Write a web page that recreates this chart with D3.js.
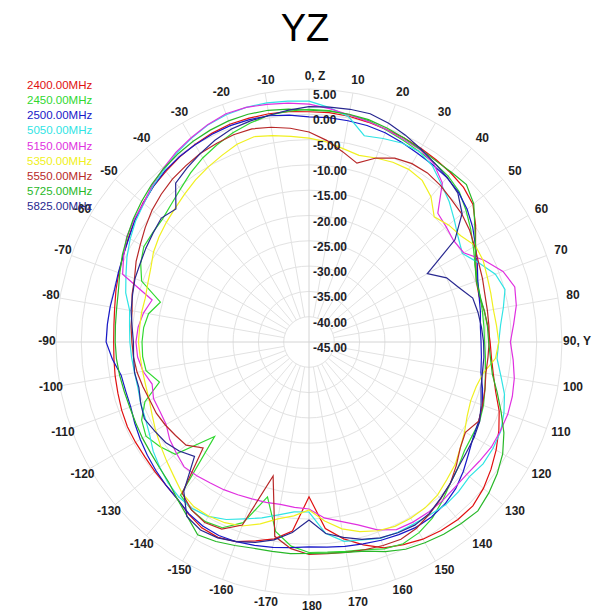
<!DOCTYPE html>
<html>
<head>
<meta charset="utf-8">
<script src="https://cdn.jsdelivr.net/npm/d3@7"></script>
<style>
  html, body { margin: 0; padding: 0; background: #ffffff; }
  svg { display: block; font-family: "Liberation Sans", Arial, sans-serif; }
</style>
</head>
<body>
<div id="chart"></div>
<script>
// ---------------- DATA ----------------
const title = "YZ";
// angle grid (degrees, clockwise from top): 0,5,...,180,-175,...,-5
const angles = d3.range(0, 360, 5);
const angleTicks = [0,10,20,30,40,50,60,70,80,90,100,110,120,130,140,150,160,170,180,
                    -170,-160,-150,-140,-130,-120,-110,-100,-90,-80,-70,-60,-50,-40,-30,-20,-10];
const angleTickLabels = {0: "0, Z", 90: "90, Y"};
const radialTicks = [5,0,-5,-10,-15,-20,-25,-30,-35,-40,-45];
const seriesNames = ["2400.00MHz","2450.00MHz","2500.00MHz","5050.00MHz","5150.00MHz",
                     "5350.00MHz","5550.00MHz","5725.00MHz","5825.00MHz"];
const seriesColors = ["#e01010","#30d830","#1818c8","#30e4e4","#e030e0",
                      "#f0f020","#b82828","#28b828","#282890"];

const s2400 = [0.5,0.5,0.3,0.0,-0.3,-0.5,-0.8,-1.1,-1.4,-1.8,-2.7,-4.8,-7.0,-8.6,-9.8,-10.2,-9.8,-9.5,-9.2,-8.8,-8.0,-6.8,-5.0,-3.6,-2.3,-1.1,0.0,0.8,0.8,0.5,0.0,-0.8,-1.7,-3.5,-5.5,-8.0,-14.4,
  -7.5,-5.5,-4.3,-3.0,-2.4,-2.6,-3.5,-4.5,-5.0,-5.2,-5.4,-5.4,-5.4,-5.6,-5.9,-6.1,-6.3,-6.4,-6.3,-6.0,-5.5,-5.0,-4.5,-3.8,-3.0,-2.2,-1.5,-1.0,-0.4,0.1,0.5,0.8,0.8,0.8,0.7];
const s2450 = [1.0,0.9,0.6,0.3,-0.4,-1.0,-1.5,-1.8,-2.2,-3.0,-4.5,-6.0,-7.5,-8.8,-9.6,-10.0,-10.2,-10.3,-10.3,-10.0,-9.6,-9.0,-8.3,-7.8,-7.8,-7.5,-6.5,-5.5,-4.0,-2.5,-1.5,-1.0,-1.5,-2.5,-3.0,-3.3,-3.4,
  -4.5,-7.0,-13.3,-7.0,-4.5,-4.0,-4.5,-5.5,-18.6,-10.5,-9.0,-7.8,-8.5,-10.5,-14.4,-12.3,-12.0,-12.0,-12.2,-12.8,-14.6,-9.8,-8.3,-7.3,-7.3,-7.2,-6.5,-5.5,-4.2,-3.0,-2.0,-1.0,-0.2,0.5,0.8];
const s2500 = [-0.5,-0.5,-0.6,-0.7,-1.0,-1.5,-2.0,-2.3,-2.6,-3.2,-4.2,-5.5,-7.0,-8.3,-9.5,-10.2,-10.6,-11.0,-11.0,-10.8,-10.5,-9.5,-8.5,-8.0,-7.5,-6.5,-5.2,-4.0,-3.2,-2.8,-2.7,-3.0,-3.3,-3.7,-4.0,-4.3,-4.5,
  -4.2,-3.8,-3.4,-3.0,-2.8,-3.0,-3.6,-4.5,-5.0,-5.5,-6.0,-6.5,-7.0,-7.5,-7.5,-7.3,-6.0,-4.9,-5.0,-5.1,-5.2,-4.9,-4.5,-3.9,-3.0,-2.3,-1.5,-0.8,-0.3,0.0,0.3,0.5,0.5,0.4,0.0];
const s5050 = [2.6,1.5,0.2,-2.8,-2.2,-1.6,-1.5,-2.5,-4.3,-5.8,-7.5,-9.0,-10.0,-8.0,-5.8,-4.9,-6.0,-7.0,-7.5,-7.7,-6.5,-5.0,-4.0,-3.2,-3.0,-3.0,-3.6,-3.2,-3.0,-3.3,-3.5,-3.5,-3.7,-4.5,-5.0,-7.0,-11.4,
  -11.3,-10.3,-9.0,-7.8,-6.3,-5.2,-4.8,-5.0,-5.6,-6.5,-7.4,-8.6,-9.3,-9.6,-10.0,-10.0,-9.8,-9.6,-9.4,-9.0,-7.5,-6.5,-5.3,-4.2,-3.2,-2.4,-1.4,-0.5,0.6,1.5,2.3,2.8,3.0,3.0,2.8];
const s5150 = [2.0,1.3,0.6,0.1,-0.3,-0.8,-1.1,-2.0,-4.0,-9.0,-9.6,-10.1,-9.7,-6.8,-4.2,-2.9,-3.4,-4.4,-5.2,-4.5,-3.8,-3.4,-3.2,-3.3,-3.4,-3.9,-4.3,-4.3,-4.0,-3.9,-3.9,-4.1,-5.5,-7.6,-9.0,-10.1,-12.0,
  -12.2,-12.4,-12.2,-12.0,-11.7,-11.3,-11.0,-10.5,-10.1,-10.8,-11.4,-12.4,-12.5,-12.3,-12.9,-11.7,-11.0,-10.8,-11.1,-11.8,-12.9,-5.8,-4.6,-3.4,-2.8,-2.3,-1.2,-0.2,0.8,1.6,2.4,3.0,3.0,2.7,2.4];
const s5350 = [-4.7,-5.3,-6.2,-6.8,-6.3,-5.8,-5.6,-6.0,-7.5,-10.0,-9.0,-8.4,-7.0,-7.0,-7.5,-7.8,-8.0,-7.8,-7.5,-8.0,-10.0,-10.8,-11.0,-10.5,-9.5,-8.5,-7.3,-6.5,-5.5,-5.0,-4.8,-4.8,-5.3,-6.2,-7.5,-9.5,-11.8,
  -10.5,-9.5,-7.8,-6.3,-5.6,-5.3,-5.3,-6.0,-7.3,-8.3,-9.2,-10.0,-10.8,-11.4,-11.6,-11.6,-11.5,-11.3,-11.4,-11.4,-11.5,-11.1,-10.5,-9.5,-8.8,-8.2,-7.6,-6.8,-5.9,-5.1,-4.3,-3.4,-3.0,-3.6,-4.2];
const s5550 = [-3.5,-5.0,-6.8,-8.4,-6.3,-4.9,-4.3,-4.2,-4.6,-5.2,-5.6,-6.3,-7.2,-8.0,-8.5,-9.0,-9.2,-9.3,-9.4,-9.5,-9.5,-9.0,-8.5,-8.0,-9.3,-8.5,-7.0,-5.5,-4.5,-3.5,-2.5,-2.0,-2.2,-2.5,-2.8,-3.0,-3.0,
  -4.0,-6.0,-17.6,-6.5,-4.2,-3.8,-4.5,-6.0,-15.4,-13.3,-12.8,-12.2,-11.7,-11.5,-11.0,-10.5,-10.2,-10.0,-9.7,-9.5,-8.8,-8.3,-7.3,-6.5,-5.5,-4.5,-3.7,-3.0,-2.5,-2.0,-1.7,-1.4,-1.4,-1.9,-2.6];
const s5725 = [0.8,0.8,0.7,0.5,0.0,-0.5,-1.0,-1.3,-1.2,-1.0,-2.5,-5.0,-7.0,-8.8,-9.8,-10.0,-9.8,-9.6,-9.5,-9.0,-8.2,-6.5,-4.6,-2.5,-0.8,0.4,1.4,2.2,1.8,1.4,0.8,0.2,-0.9,-2.2,-2.8,-3.1,-3.2,
  -3.0,-3.0,-2.8,-2.2,-1.5,-1.0,-3.0,-4.5,-5.8,-6.4,-6.8,-7.0,-7.2,-7.3,-7.2,-7.0,-6.8,-6.7,-6.6,-6.4,-6.0,-5.2,-4.3,-3.5,-2.6,-1.8,-1.0,-0.3,0.3,0.8,1.2,1.5,1.6,1.5,1.2];
const s5825 = [1.5,1.6,1.7,1.7,1.0,0.1,-0.9,-1.8,-2.5,-3.4,-5.5,-9.8,-18.0,-15.0,-13.5,-11.5,-11.1,-10.8,-10.5,-10.3,-10.2,-9.8,-8.8,-7.8,-7.3,-7.0,-6.5,-5.5,-4.6,-3.6,-3.2,-3.4,-3.8,-4.6,-5.8,-7.0,-9.8,
  -7.2,-5.3,-4.0,-3.0,-2.3,-2.1,-2.9,-6.5,-13.0,-11.5,-10.4,-9.8,-9.1,-9.6,-10.2,-10.0,-10.2,-10.3,-9.9,-9.3,-8.9,-8.4,-8.2,-7.8,-7.4,-6.9,-7.8,-4.0,-3.0,-2.0,-1.0,-0.2,0.2,0.5,1.0];

const seriesValues = [s2400, s2450, s2500, s5050, s5150, s5350, s5550, s5725, s5825];

// ---------------- LAYOUT ----------------
const W = 605, H = 613;
const cx = 309, cy = 342, R = 253;
const rScale = d3.scaleLinear().domain([-45, 5]).range([0, R]).clamp(true);
const rad = d => d * Math.PI / 180;

const svg = d3.select("#chart").append("svg").attr("width", W).attr("height", H);
svg.append("rect").attr("width", W).attr("height", H).attr("fill", "#fff");

// title
svg.append("text").attr("x", 305).attr("y", 41).attr("text-anchor", "middle")
  .attr("font-size", 38).attr("fill", "#000").text(title);

const g = svg.append("g").attr("transform", `translate(${cx},${cy})`);

// grid circles
const ringVals = radialTicks.filter(v => v > -45);
g.selectAll("circle.ring").data(ringVals).join("circle")
  .attr("class", "ring").attr("r", d => rScale(d))
  .attr("fill", "none").attr("stroke", "#e2e2e2").attr("stroke-width", 1);

// spokes
g.selectAll("line.spoke").data(angleTicks).join("line")
  .attr("class", "spoke")
  .attr("x1", d => (d % 90 === 0 ? 0 : rScale(-40)) * Math.sin(rad(d)))
  .attr("y1", d => -(d % 90 === 0 ? 0 : rScale(-40)) * Math.cos(rad(d)))
  .attr("x2", d => R * Math.sin(rad(d)))
  .attr("y2", d => -R * Math.cos(rad(d)))
  .attr("stroke", d => d % 90 === 0 ? "#d4d4d4" : "#e2e2e2").attr("stroke-width", 1);

// series
const line = d3.lineRadial()
  .angle((d, i) => rad(angles[i]))
  .radius(d => rScale(d))
  .curve(d3.curveLinearClosed);

g.selectAll("path.series").data(seriesValues).join("path")
  .attr("class", "series")
  .attr("d", d => line(d))
  .attr("fill", "none")
  .attr("stroke", (d, i) => seriesColors[i])
  .attr("stroke-width", 1.2)
  .attr("stroke-linejoin", "miter");

// radial labels
g.selectAll("text.rlab").data(radialTicks).join("text")
  .attr("class", "rlab")
  .attr("x", 4)
  .attr("y", d => -rScale(d) + 10)
  .attr("font-size", 12).attr("font-weight", "bold").attr("fill", "#1e1e28")
  .text(d => d.toFixed(2));

// angle labels
const LR = 265;
g.selectAll("text.alab").data(angleTicks).join("text")
  .attr("class", "alab")
  .attr("x", d => LR * Math.sin(rad(d)) + 3 + (d === 0 ? 3 : 0))
  .attr("y", d => -LR * Math.cos(rad(d)) - 1)
  .attr("text-anchor", "middle").attr("dominant-baseline", "central")
  .attr("font-size", 12).attr("font-weight", "bold").attr("fill", "#1e1e1e")
  .text(d => angleTickLabels[d] !== undefined ? angleTickLabels[d] : String(d));

// legend
svg.selectAll("text.leg").data(seriesNames).join("text")
  .attr("class", "leg")
  .attr("x", 27)
  .attr("y", (d, i) => 89 + i * 15.15)
  .attr("font-size", 11.5)
  .attr("fill", (d, i) => seriesColors[i])
  .text(d => d);
</script>
</body>
</html>
